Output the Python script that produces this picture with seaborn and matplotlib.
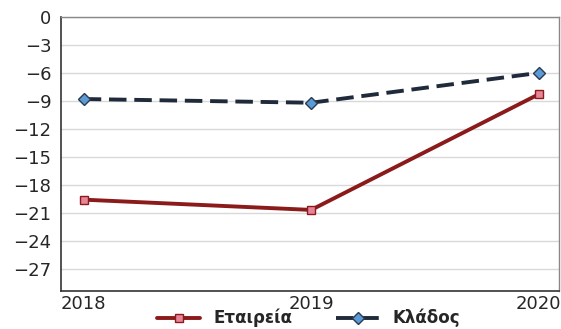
import matplotlib.pyplot as plt
import pandas as pd
import seaborn as sns

years = [2018, 2019, 2020]
company = [-19.6, -20.7, -8.3]
sector = [-8.8, -9.2, -6.0]
labels = ['Εταιρεία', 'Κλάδος']

sns.set_style('white')
plt.rcParams['font.family'] = ['DejaVu Sans']

fig = plt.figure(figsize=(5.61, 3.29), dpi=100)
ax = fig.add_axes([61 / 561, 1 - 291 / 329, 498 / 561, 274 / 329])

df1 = pd.DataFrame({'year': years, 'value': company})
df2 = pd.DataFrame({'year': years, 'value': sector})
sns.lineplot(data=df1, x='year', y='value', ax=ax, color='#8b1a1a', lw=2.8,
             marker='s', markersize=6, markerfacecolor='#e8849a',
             markeredgecolor='#8b1a1a', markeredgewidth=1, label=labels[0])
sns.lineplot(data=df2, x='year', y='value', ax=ax, color='#1f2a3a', lw=2.8,
             marker='D', markersize=6, markerfacecolor='#5b9bd5',
             markeredgecolor='#2a3a55', markeredgewidth=1, label=labels[1])
ax.lines[1].set_dashes((4.5, 2))

ax.set_xlim(2017.9, 2020.09)
ax.set_ylim(-29.4, 0)
ax.set_xticks(years)
ax.set_yticks(range(0, -28, -3))
ax.set_xlabel('')
ax.set_ylabel('')
ax.grid(axis='y', color='#d9d9d9', lw=1)
ax.set_axisbelow(True)
ax.tick_params(axis='y', direction='out', length=5, width=1, color='#333333', labelsize=13, pad=2)
ax.tick_params(axis='x', direction='in', length=4, width=1, color='#333333', labelsize=13, pad=3)
for s in ['left', 'bottom']:
    ax.spines[s].set_color('#333333')
    ax.spines[s].set_linewidth(1.2)
for s in ['top', 'right']:
    ax.spines[s].set_color('#888888')
    ax.spines[s].set_linewidth(1)

ax.get_legend().remove()
h, l = ax.get_legend_handles_labels()
h[1].set_dashes((4.5, 2))
fig.legend(h, l, loc='center', bbox_to_anchor=(0.55, 0.033), ncol=2, frameon=False,
           prop={'weight': 'bold', 'size': 12}, handlelength=2.6, columnspacing=2.6,
           borderpad=0, handletextpad=0.8)

fig.savefig('out.png', dpi=100)
